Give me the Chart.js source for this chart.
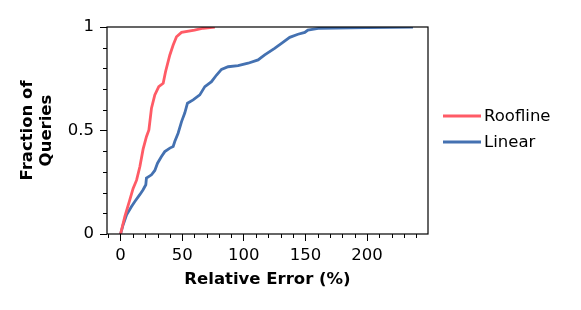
<!DOCTYPE html>
<html>
<head>
<meta charset="utf-8">
<script src="https://cdn.jsdelivr.net/npm/chart.js@4.4.1/dist/chart.umd.min.js"></script>
<style>
  html, body { margin: 0; padding: 0; background: #fff; }
  #wrap { width: 581px; height: 310px; }
</style>
</head>
<body>
<div id="wrap"><canvas id="cdf"></canvas></div>
<script>
// values
const SERIES_LABELS = ["Roofline", "Linear"];
const SERIES_COLORS = ["#ff5b66", "#4471b1"];

const rooflineX = [0, 3.5, 7.5, 10.2, 13, 15.7, 18.3, 21, 23, 25.1, 27.8, 31, 34.6, 36.5, 40, 42.7, 45.4, 49.5, 60, 67, 76.5];
const rooflineY = [0, 0.085, 0.165, 0.22, 0.26, 0.326, 0.41, 0.47, 0.503, 0.608, 0.672, 0.712, 0.728, 0.784, 0.865, 0.913, 0.953, 0.974, 0.985, 0.994, 1.0];

const linearX = [0, 2.1, 4.9, 8.9, 11.6, 15.6, 18.3, 20.5, 21, 25.1,
  27.8, 30, 33.2, 35.9, 40, 42.7, 44, 46.7, 49.5, 52.1,
  54.3, 58.9, 64.3, 68.4, 73.8, 77.9, 81.9, 87.3, 95.4, 103.5,
  111.6, 117, 125, 130.6, 137.3, 144, 149.5, 152, 161.6, 199.5, 237.3];
const linearY = [0, 0.045, 0.093, 0.133, 0.157, 0.19, 0.214, 0.238, 0.27, 0.286,
  0.307, 0.342, 0.374, 0.398, 0.415, 0.423, 0.447, 0.487, 0.543, 0.584,
  0.632, 0.648, 0.672, 0.712, 0.736, 0.768, 0.795, 0.808, 0.813, 0.825,
  0.841, 0.865, 0.897, 0.921, 0.95, 0.965, 0.974, 0.985, 0.994, 0.997, 1.0];

const xMajorTicks = [0, 50, 100, 150, 200];
const xMinorTicks = [-10, 10, 20, 30, 40, 60, 70, 80, 90, 110, 120, 130, 140, 160, 170, 180, 190, 210, 220, 230, 240];
const yMajorTicks = [0, 0.5, 1];
const yTickLabels = ["0", "0.5", "1"];
const yMinorTicks = [0.1, 0.2, 0.3, 0.4, 0.6, 0.7, 0.8, 0.9];

const X_TITLE = "Relative Error (%)";
const Y_TITLE = ["Fraction of", "Queries"];

const FONT = "'DejaVu Sans', sans-serif";
const FS = 16.5;
const LINE_W = 2.8;

function zip(xs, ys) {
  return xs.map((x, i) => ({ x: x, y: ys[i] }));
}

// box around the plot, minor ticks and the legend on the right
const decorPlugin = {
  id: "decor",
  afterDraw(chart) {
    const { ctx, chartArea: a, scales } = chart;
    ctx.save();
    ctx.strokeStyle = "#000";
    ctx.lineWidth = 1.2;
    ctx.strokeRect(a.left, a.top, a.right - a.left, a.bottom - a.top);

    ctx.lineWidth = 1;
    ctx.beginPath();
    xMinorTicks.forEach(v => {
      const px = Math.round(scales.x.getPixelForValue(v)) + 0.5;
      ctx.moveTo(px, a.bottom);
      ctx.lineTo(px, a.bottom + 4);
    });
    yMinorTicks.forEach(v => {
      const py = Math.round(scales.y.getPixelForValue(v)) + 0.5;
      ctx.moveTo(a.left, py);
      ctx.lineTo(a.left - 4, py);
    });
    ctx.stroke();

    const lx = 443, ly = 116, gap = 26;
    ctx.font = FS + "px " + FONT;
    ctx.textBaseline = "middle";
    ctx.fillStyle = "#000";
    SERIES_LABELS.forEach((label, i) => {
      const y = ly + i * gap;
      ctx.strokeStyle = SERIES_COLORS[i];
      ctx.lineWidth = LINE_W;
      ctx.beginPath();
      ctx.moveTo(lx, y);
      ctx.lineTo(lx + 38, y);
      ctx.stroke();
      ctx.fillText(label, lx + 41, y + 1);
    });
    ctx.restore();
  }
};

const PAD_LEFT = 18, PAD_BOTTOM = 21;
const AREA_LEFT = 107, AREA_BOTTOM = 234;

new Chart(document.getElementById("cdf"), {
  type: "line",
  data: {
    datasets: [
      {
        label: SERIES_LABELS[0],
        data: zip(rooflineX, rooflineY),
        borderColor: SERIES_COLORS[0],
        borderWidth: LINE_W,
        pointRadius: 0,
        tension: 0,
        fill: false
      },
      {
        label: SERIES_LABELS[1],
        data: zip(linearX, linearY),
        borderColor: SERIES_COLORS[1],
        borderWidth: LINE_W,
        pointRadius: 0,
        tension: 0,
        fill: false
      }
    ]
  },
  options: {
    responsive: true,
    maintainAspectRatio: false,
    animation: false,
    layout: { padding: { left: PAD_LEFT, right: 153, top: 27, bottom: PAD_BOTTOM } },
    plugins: { legend: { display: false }, tooltip: { enabled: false } },
    scales: {
      x: {
        type: "linear",
        min: -11,
        max: 249.5,
        afterBuildTicks: s => { s.ticks = xMajorTicks.map(v => ({ value: v })); },
        afterFit: s => { s.height = 310 - PAD_BOTTOM - AREA_BOTTOM; },
        border: { display: false },
        grid: { drawOnChartArea: false, drawTicks: true, tickLength: 7, tickColor: "#000", tickWidth: 1 },
        ticks: { color: "#000", padding: 5, maxRotation: 0, font: { family: FONT, size: FS } },
        title: {
          display: true,
          text: X_TITLE,
          color: "#000",
          padding: 0,
          font: { family: FONT, size: FS, weight: "bold", lineHeight: 1.18 }
        }
      },
      y: {
        type: "linear",
        min: 0,
        max: 1,
        afterBuildTicks: s => { s.ticks = yMajorTicks.map(v => ({ value: v })); },
        afterFit: s => { s.width = AREA_LEFT - PAD_LEFT; },
        border: { display: false },
        grid: { drawOnChartArea: false, drawTicks: true, tickLength: 7, tickColor: "#000", tickWidth: 1 },
        ticks: {
          color: "#000",
          padding: 6,
          font: { family: FONT, size: FS },
          callback: (v) => {
            const i = yMajorTicks.indexOf(v);
            return i >= 0 ? yTickLabels[i] : "";
          }
        },
        title: {
          display: true,
          text: Y_TITLE,
          color: "#000",
          padding: 0,
          font: { family: FONT, size: FS, weight: "bold", lineHeight: 1.18 }
        }
      }
    }
  },
  plugins: [decorPlugin]
});
</script>
</body>
</html>
